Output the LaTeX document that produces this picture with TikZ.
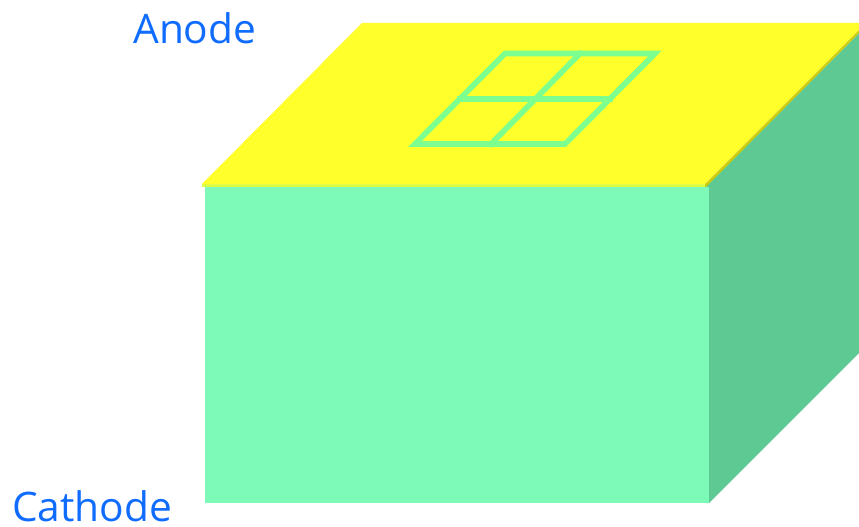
\documentclass[tikz,border=0pt]{standalone}
\usepackage{fontspec}
\setmainfont{Open Sans}
\definecolor{frontc}{HTML}{7DFAB7}
\definecolor{sidec}{HTML}{5FC993}
\definecolor{topc}{HTML}{FFFF2B}
\definecolor{bandc}{HTML}{DDFF44}
\definecolor{edgec}{HTML}{CCCC11}
\definecolor{gridc}{HTML}{7CFF8F}
\definecolor{labelc}{HTML}{0F6CFF}
\tikzset{
  x=0.75pt,y=-0.75pt,
  gridline/.style={draw=gridc,line width=4.2pt,line cap=rect,line join=miter},
  label/.style={text=labelc,inner sep=0pt,anchor=base west,font=\fontsize{30.5pt}{32pt}\selectfont}
}
\begin{document}
\begin{tikzpicture}
\useasboundingbox (0,0) rectangle (859,527);
% solid
\fill[sidec] (706,186) -- (859,33) -- (859,353) -- (709,503) -- (706,503) -- cycle;
\fill[frontc] (205,187) rectangle (709,503);
\fill[topc] (202,184) -- (362,23) -- (859,23) -- (859,30) -- (705,184) -- cycle;
\fill[bandc] (202,184) -- (705,184) -- (705,187) -- (202,187) -- cycle;
\fill[edgec] (705,187) -- (706.5,186.5) -- (859,33) -- (859,30) -- (705,184) -- cycle;
% window grid
\draw[gridline] (415,144) -- (505,53.5) -- (655,53.5) -- (565,144) -- cycle;
\draw[gridline] (460,99) -- (610,99);
\draw[gridline] (580,53.5) -- (491,144);
% labels
\node[label] (anode) at (133,43.5) {Anode};
\node[label] (cathode) at (12,521) {Cathode};
\end{tikzpicture}
\end{document}
